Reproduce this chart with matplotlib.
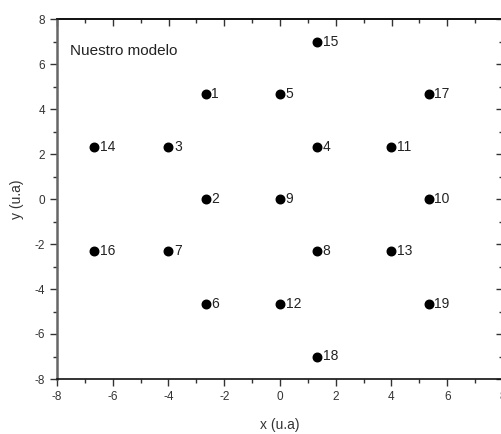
"""Hexagonal site lattice, 'Nuestro modelo'."""

import matplotlib
matplotlib.use('Agg')
import matplotlib.pyplot as plt
from matplotlib.ticker import MultipleLocator

plt.rcParams['font.family'] = ['Liberation Sans', 'DejaVu Sans']
plt.rcParams['axes.unicode_minus'] = False

# site coordinates (u.a) and their labels
site_x = [-2.67, -2.67, -4.0, 1.33, 0.0, -2.67, -4.0, 1.33, 0.0, 5.33,
          4.0, 0.0, 4.0, -6.67, 1.33, -6.67, 5.33, 1.33, 5.33]
site_y = [4.67, 0.0, 2.33, 2.33, 4.67, -4.67, -2.33, -2.33, 0.0, 0.0,
          2.33, -4.67, -2.33, 2.33, 7.0, -2.33, 4.67, -7.0, -4.67]
site_labels = [str(i) for i in range(1, 20)]

fig = plt.figure(figsize=(5.02, 4.34), dpi=100)
ax = fig.add_axes([57 / 502, (434 - 379) / 434, 446 / 502, 360 / 434])

ax.scatter(site_x, site_y, s=38, color='black', zorder=3)
for x, y, lab in zip(site_x, site_y, site_labels):
    ax.annotate(lab, (x, y), xytext=(4, 0), textcoords='offset points',
                ha='left', va='center', fontsize=10, color='#222222')

ax.text(0.03, 0.91, 'Nuestro modelo', transform=ax.transAxes,
        ha='left', va='center', fontsize=11, color='#222222')

ax.set_xlim(-8, 8)
ax.set_ylim(-8, 8)
ax.xaxis.set_major_locator(MultipleLocator(2))
ax.yaxis.set_major_locator(MultipleLocator(2))
ax.xaxis.set_minor_locator(MultipleLocator(1))
ax.yaxis.set_minor_locator(MultipleLocator(1))

# outward ticks on left/bottom, inward mirrored ticks on top/right
ax.tick_params(which='both', direction='out', top=False, right=False,
               labelsize=8.5, labelcolor='#333333', color='#333333')
ax.tick_params(which='major', length=5, width=1)
ax.tick_params(which='minor', length=3, width=1)

sec_x = ax.secondary_xaxis('top')
sec_x.xaxis.set_major_locator(MultipleLocator(2))
sec_x.xaxis.set_minor_locator(MultipleLocator(1))
sec_x.tick_params(which='both', direction='in', labeltop=False, color='#333333')
sec_x.tick_params(which='major', length=5, width=1)
sec_x.tick_params(which='minor', length=3, width=1)
sec_y = ax.secondary_yaxis('right')
sec_y.yaxis.set_major_locator(MultipleLocator(2))
sec_y.yaxis.set_minor_locator(MultipleLocator(1))
sec_y.tick_params(which='both', direction='in', labelright=False, color='#333333')
sec_y.tick_params(which='major', length=5, width=1)
sec_y.tick_params(which='minor', length=3, width=1)

for side in ['left', 'right', 'top', 'bottom']:
    ax.spines[side].set_color('#111111')
    ax.spines[side].set_linewidth(1.2)
ax.spines['left'].set_color('#666666')
ax.spines['left'].set_linewidth(1.8)
sec_x.spines['top'].set_linewidth(1.2)
sec_y.spines['right'].set_linewidth(1.2)

ax.set_xlabel('x (u.a)', fontsize=10, color='#333333', labelpad=11)
ax.set_ylabel('y (u.a)', fontsize=10, color='#333333', labelpad=8)

fig.savefig('out.png', dpi=100, facecolor='white')
